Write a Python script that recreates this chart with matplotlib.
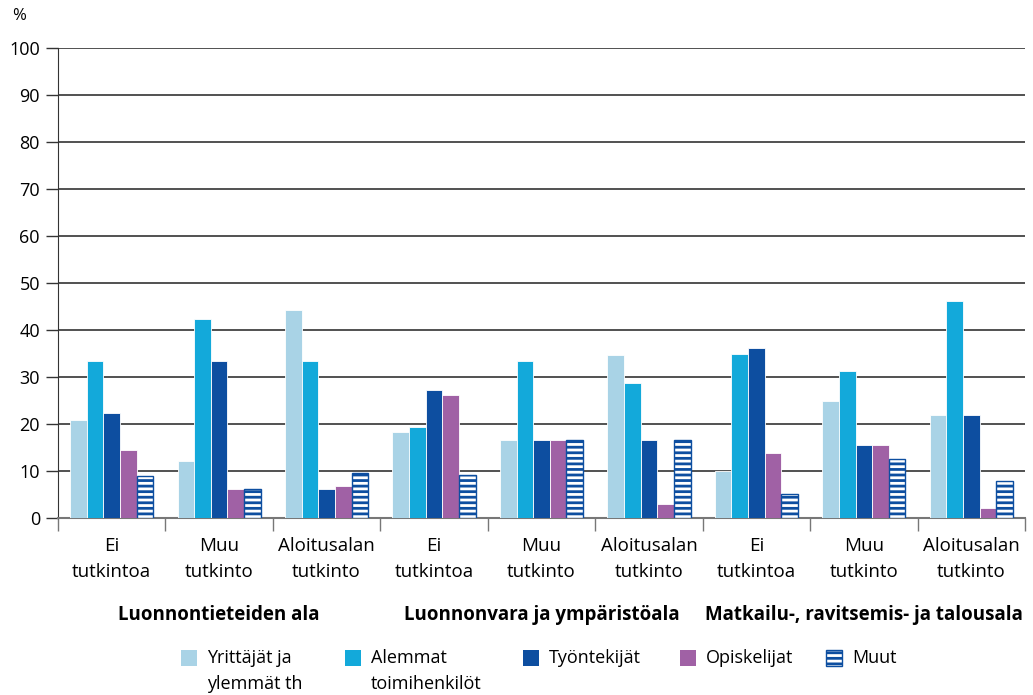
import matplotlib.pyplot as plt
import numpy as np
from matplotlib.patches import Rectangle

plt.rcParams['font.family'] = ['Open Sans', 'DejaVu Sans']
plt.rcParams['hatch.linewidth'] = 2.0

# Ryhmät ja alaryhmät
aloitusalat = ['Luonnontieteiden ala', 'Luonnonvara ja ympäristöala',
               'Matkailu-, ravitsemis- ja talousala']
tutkinnot = ['Ei\ntutkintoa', 'Muu\ntutkinto', 'Aloitusalan\ntutkinto']
sarjat = ['Yrittäjät ja\nylemmät th', 'Alemmat\ntoimihenkilöt', 'Työntekijät',
          'Opiskelijat', 'Muut']

# Osuudet (%) jokaisessa yhdeksässä ryhmässä
yrittajat = [20.8, 12.1, 44.2, 18.2, 16.7, 34.7, 10.1, 24.9, 21.9]
alemmat = [33.4, 42.4, 33.3, 19.3, 33.3, 28.7, 34.8, 31.2, 46.2]
tyontekijat = [22.3, 33.3, 6.1, 27.2, 16.7, 16.7, 36.1, 15.5, 21.9]
opiskelijat = [14.5, 6.1, 6.8, 26.1, 16.7, 3.0, 13.8, 15.5, 2.1]
muut = [9.0, 6.1, 9.6, 9.1, 16.7, 16.7, 5.2, 12.5, 7.8]

arvot = [yrittajat, alemmat, tyontekijat, opiskelijat, muut]
varit = ['#A9D3E6', '#13A9DA', '#0D4EA0', '#A061A5', 'white']

fig = plt.figure(figsize=(10.33, 6.95), dpi=100)
ax = fig.add_axes([58 / 1033, 1 - 518 / 695, 967 / 1033, 470 / 695])

x = np.arange(9)
leveys = 0.155
for i, (vals, vari) in enumerate(zip(arvot, varit)):
    pos = x + (i - 2) * leveys
    if i == 4:
        ax.bar(pos, vals, width=leveys, color='white', edgecolor='#0D4EA0',
               hatch='---', linewidth=1.0, zorder=3)
    else:
        ax.bar(pos, vals, width=leveys, color=vari, edgecolor='white',
               linewidth=0.6, zorder=3)

ax.set_xlim(-0.5, 8.5)
ax.set_ylim(0, 100)
ax.set_yticks(range(0, 101, 10))
ax.tick_params(axis='y', labelsize=13, length=9, width=1, color='#333333',
               pad=4)
ax.yaxis.grid(True, color='#333333', linewidth=1.2, zorder=0)
ax.set_axisbelow(True)

# Rajaviivat tutkintoryhmien välissä
ax.set_xticks(np.arange(-0.5, 9, 1))
ax.set_xticklabels([])
ax.tick_params(axis='x', length=9, width=1, color='#777777')
for xi, lab in zip(x, tutkinnot * 3):
    ax.text(xi, -4.0, lab, ha='center', va='top', fontsize=13.5,
            linespacing=1.6)
for g, nimi in enumerate(aloitusalat):
    ax.text(3 * g + 1, -18.6, nimi, ha='center', va='top', fontsize=13.5,
            fontweight='bold')

for s in ['top', 'right']:
    ax.spines[s].set_visible(False)
ax.spines['left'].set_color('#333333')
ax.spines['bottom'].set_color('#777777')
ax.spines['bottom'].set_linewidth(1.5)

fig.text(12 / 1033, 1 - 16 / 695, '%', fontsize=12, ha='left', va='center')

# Selite
sel_x = [181, 345, 523, 680, 826]
for sx, lab, vari, i in zip(sel_x, sarjat, varit, range(5)):
    y0 = 1 - 666 / 695
    if i == 4:
        r = Rectangle((sx / 1033, y0), 16 / 1033, 16 / 695, transform=fig.transFigure,
                      facecolor='white', edgecolor='#0D4EA0', hatch='---',
                      linewidth=1.0)
    else:
        r = Rectangle((sx / 1033, y0), 16 / 1033, 16 / 695, transform=fig.transFigure,
                      facecolor=vari, edgecolor='none')
    fig.patches.append(r)
    fig.text((sx + 26) / 1033, 1 - 649 / 695, lab, fontsize=13, ha='left',
             va='top', linespacing=1.55)

fig.savefig('out.png', dpi=100)
